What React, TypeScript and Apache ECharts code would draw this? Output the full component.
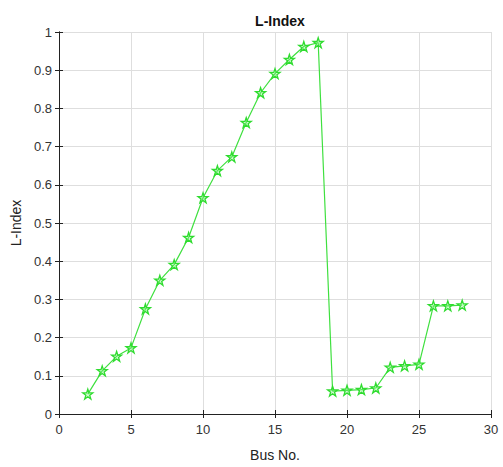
import React, { useEffect, useRef } from "react";
import * as echarts from "echarts";

const busNo = [2, 3, 4, 5, 6, 7, 8, 9, 10, 11, 12, 13, 14, 15, 16, 17, 18, 19, 20, 21, 22, 23, 24, 25, 26, 27, 28];
const lIndex = [0.052, 0.113, 0.151, 0.173, 0.275, 0.35, 0.391, 0.462, 0.566, 0.637, 0.673, 0.763, 0.841, 0.891, 0.928, 0.962, 0.972, 0.06, 0.062, 0.064, 0.068, 0.122, 0.126, 0.13, 0.283, 0.283, 0.285];

const STAR = "path://M50,0 L61.8,35.1 L98.9,35.1 L69.1,57 L80.3,92.1 L50,70.5 L19.7,92.1 L30.9,57 L1.1,35.1 L38.2,35.1 Z";

export default function App() {
  const ref = useRef<HTMLDivElement>(null);
  useEffect(() => {
    if (!ref.current) return;
    const chart = echarts.init(ref.current, null, { renderer: "svg" });
    const font = "'Liberation Sans', Arial, sans-serif";
    const axisCommon = {
      axisLine: { show: true, lineStyle: { color: "#222", width: 1 } },
      axisTick: { show: true, inside: true, length: 4, lineStyle: { color: "#222" } },
    };
    chart.setOption({
      animation: false,
      backgroundColor: "#fff",
      title: {
        text: "L-Index",
        left: 275,
        textAlign: "center",
        top: 9,
        textStyle: { fontFamily: font, fontSize: 14, fontWeight: "bold", color: "#111" },
      },
      grid: { left: 59, right: 12, top: 32, bottom: 47 },
      xAxis: [
        {
          type: "value",
          min: 0,
          max: 30,
          interval: 5,
          position: "bottom",
          ...axisCommon,
          axisLabel: { fontFamily: font, fontSize: 13, color: "#333", margin: 9 },
          splitLine: { show: true, lineStyle: { color: "#dedede" } },
          name: "Bus No.",
          nameLocation: "middle",
          nameGap: 34,
          nameTextStyle: { fontFamily: font, fontSize: 14, color: "#222" },
        },
        {
          type: "value",
          min: 0,
          max: 30,
          interval: 5,
          position: "top",
          ...axisCommon,
          axisLabel: { show: false },
          splitLine: { show: false },
        },
      ],
      yAxis: [
        {
          type: "value",
          min: 0,
          max: 1,
          interval: 0.1,
          position: "left",
          ...axisCommon,
          axisLabel: { fontFamily: font, fontSize: 13, color: "#333", margin: 7 },
          splitLine: { show: true, lineStyle: { color: "#dedede" } },
          name: "L-Index",
          nameLocation: "middle",
          nameGap: 27,
          nameTextStyle: { fontFamily: font, fontSize: 14, color: "#222" },
        },
        {
          type: "value",
          min: 0,
          max: 1,
          interval: 0.1,
          position: "right",
          ...axisCommon,
          axisLabel: { show: false },
          splitLine: { show: false },
        },
      ],
      series: [
        {
          type: "line",
          data: busNo.map((b, i) => [b, lIndex[i]]),
          symbol: STAR,
          symbolSize: 10,
          showAllSymbol: true,
          lineStyle: { color: "#3fe03f", width: 1.2 },
          itemStyle: { color: "rgba(120,240,120,0.35)", borderColor: "#2fdc2f", borderWidth: 1.3 },
        },
      ],
    });
    return () => chart.dispose();
  }, []);
  return <div ref={ref} style={{ position: "absolute", left: 0, top: 0, width: 503, height: 467 }} />;
}
